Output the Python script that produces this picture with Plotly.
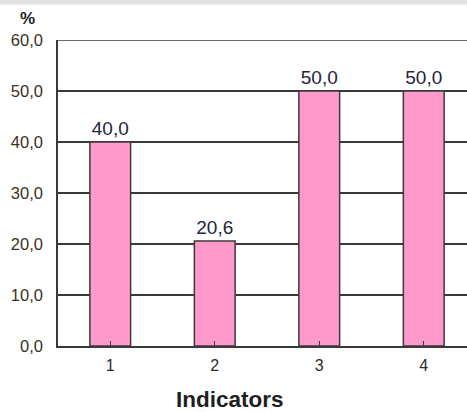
import plotly.graph_objects as go

# Chart data
categories = [1, 2, 3, 4]
values = [40.0, 20.6, 50.0, 50.0]
y_ticks = [0, 10, 20, 30, 40, 50, 60]

W, H = 467, 412
M_L, M_R, M_T, M_B = 58, 0, 40, 66
plot_h = H - M_T - M_B
plot_w = W - M_L - M_R

LINE = "#3a3a3a"
FONT = "Liberation Sans, Arial, sans-serif"

fig = go.Figure(
    go.Bar(
        x=categories,
        y=values,
        width=0.39,
        marker=dict(color="#ff99cc", line=dict(color=LINE, width=1.5)),
        text=values,
        texttemplate="%{y:.1f}",
        textposition="outside",
        cliponaxis=False,
        textfont=dict(family=FONT, size=19, color="#23263a"),
    )
)

fig.update_layout(
    width=W,
    height=H,
    margin=dict(l=M_L, r=M_R, t=M_T, b=M_B),
    paper_bgcolor="white",
    plot_bgcolor="white",
    separators=",.",
    showlegend=False,
    xaxis=dict(
        range=[0.5, 0.5 + plot_w / 104.5],
        tickvals=categories,
        ticktext=[str(c) for c in categories],
        tickson="boundaries",
        ticks="inside",
        ticklen=5,
        tickwidth=1.2,
        tickcolor=LINE,
        showgrid=False,
        showline=True,
        linecolor=LINE,
        linewidth=1.5,
        zeroline=False,
        ticklabelstandoff=4,
        tickfont=dict(family=FONT, size=16, color="#2e2a26"),
        fixedrange=True,
    ),
    yaxis=dict(
        range=[0, 60],
        tickvals=y_ticks,
        tickformat=".1f",
        showgrid=True,
        gridcolor=LINE,
        gridwidth=1.5,
        showline=True,
        linecolor=LINE,
        linewidth=1.5,
        zeroline=False,
        ticks="",
        ticklabelstandoff=10,
        tickfont=dict(family=FONT, size=16.5, color="#3b3024"),
        fixedrange=True,
    ),
    shapes=[
        # thin grey band along the top edge
        dict(
            type="rect", xref="paper", yref="paper",
            x0=-M_L / plot_w, x1=1.0,
            y0=1 + (M_T - 4.5) / plot_h, y1=1 + M_T / plot_h,
            fillcolor="#e0e0e0", line=dict(width=0), layer="below",
        ),
        # gridline at the top of the value range
        dict(
            type="line", xref="paper", yref="y",
            x0=0, x1=1, y0=y_ticks[-1], y1=y_ticks[-1],
            line=dict(color=LINE, width=1.5), layer="below",
        ),
    ],
    annotations=[
        dict(
            text="<b>%</b>", xref="paper", yref="paper",
            x=(27.5 - M_L) / plot_w, y=1 + (M_T - 18) / plot_h,
            xanchor="center", yanchor="middle", showarrow=False,
            font=dict(family=FONT, size=17, color="#222222"),
        ),
        dict(
            text="<b>Indicators</b>", xref="paper", yref="paper",
            x=(230 - M_L) / plot_w, y=-(399 - M_T - plot_h) / plot_h,
            xanchor="center", yanchor="middle", showarrow=False,
            font=dict(family=FONT, size=22.5, color="#1e1e1e"),
        ),
    ],
)

fig.write_html("out.html")
